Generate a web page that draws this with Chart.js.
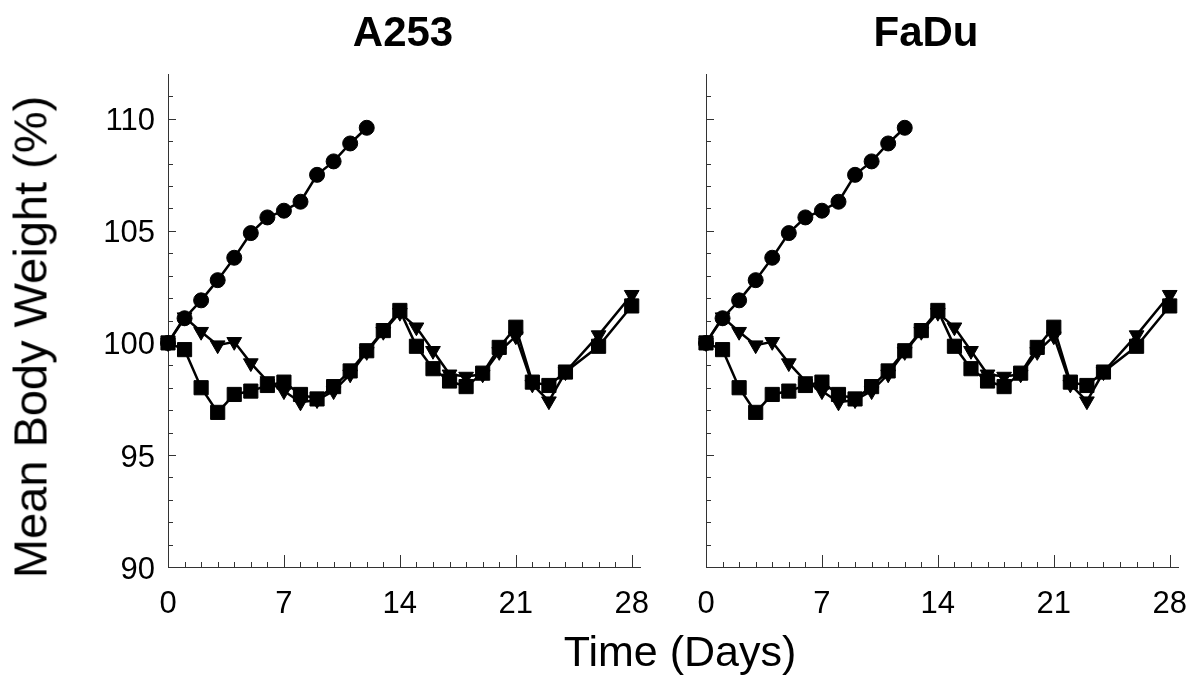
<!DOCTYPE html>
<html>
<head>
<meta charset="utf-8">
<title>Mean Body Weight</title>
<script src="https://cdn.jsdelivr.net/npm/chart.js@4.4.1/dist/chart.umd.min.js"></script>
<style>
  html, body { margin: 0; padding: 0; background: #fff; }
  #wrap { position: relative; width: 1195px; height: 681px; overflow: hidden;
          font-family: "Liberation Sans", Arial, sans-serif; color: #000; }
  #wrap canvas { position: absolute; top: 0; }
  .lbl { position: absolute; white-space: nowrap; line-height: 1; }
  .ttl { font-size: 42px; font-weight: bold; transform: translateX(-50%); }
</style>
</head>
<body>
<div id="wrap">
  <canvas id="chartA253" width="660" height="681" style="left:0"></canvas>
  <canvas id="chartFaDu" width="535" height="681" style="left:660px"></canvas>
  <div class="lbl ttl" style="left:403px; top:11px">A253</div>
  <div class="lbl ttl" style="left:926px; top:11px">FaDu</div>
  <div class="lbl" style="left:680px; top:630px; font-size:43px; transform:translateX(-50%)">Time (Days)</div>
  <div class="lbl" style="left:30px; top:337px; font-size:47px; transform:translate(-50%,-50%) rotate(-90deg)">Mean Body Weight (%)</div>
</div>
<script>
// body weight, % of day 0
const CTRL_DAYS = [0, 1, 2, 3, 4, 5, 6, 7, 8, 9, 10, 11, 12];
const CTRL_BW   = [100.0, 101.1, 101.9, 102.8, 103.8, 104.9, 105.6, 105.9, 106.3, 107.5, 108.1, 108.9, 109.6];

const TX_DAYS = [0, 1, 2, 3, 4, 5, 6, 7, 8, 9, 10, 11, 12, 13, 14, 15, 16, 17, 18, 19, 20, 21, 22, 23, 24, 26, 28];
const SQ_BW   = [100.0, 99.7, 98.0, 96.9, 97.7, 97.85, 98.1, 98.25, 97.7, 97.5, 98.05, 98.75, 99.65, 100.55, 101.45,
                 99.85, 98.85, 98.3, 98.05, 98.65, 99.8, 100.7, 98.25, 98.1, 98.7, 99.85, 101.65];
const TRI_BW  = [100.0, 101.15, 100.5, 99.9, 100.05, 99.1, 98.3, 97.85, 97.35, 97.45, 97.85, 98.6, 99.6, 100.5, 101.35,
                 100.7, 99.65, 98.6, 98.5, 98.6, 99.6, 100.3, 98.15, 97.4, 98.7, 100.35, 102.15];

const X_TICKS = [0, 7, 14, 21, 28];
const Y_TICKS = [90, 95, 100, 105, 110];

const AXIS_COLOR = "#333";
const FONT = "'Liberation Sans', Arial, sans-serif";

const pts = (xs, ys) => xs.map((d, i) => ({ x: d, y: ys[i] }));

// inward minor/major tick marks, one per day and one per percent
const tickMarks = {
  id: "tickMarks",
  beforeDatasetsDraw(chart) {
    const { ctx, scales: { x, y } } = chart;
    ctx.save();
    ctx.strokeStyle = AXIS_COLOR;
    ctx.lineWidth = 1;
    ctx.beginPath();
    for (let d = 1; d <= 28; d++) {
      const px = Math.round(x.getPixelForValue(d)) + 0.5;
      const len = d % 7 === 0 ? 12 : 5;
      ctx.moveTo(px, x.top); ctx.lineTo(px, x.top - len);
    }
    for (let v = 91; v <= 111; v++) {
      const py = Math.round(y.getPixelForValue(v)) + 0.5;
      const len = v % 5 === 0 ? 8 : 5;
      ctx.moveTo(y.right, py); ctx.lineTo(y.right + len, py);
    }
    ctx.stroke();
    ctx.restore();
  }
};

function series(data, style, radius, rot) {
  return {
    data, pointStyle: style, pointRadius: radius, pointHoverRadius: radius, pointRotation: rot || 0,
    borderColor: "#000", backgroundColor: "#000", pointBackgroundColor: "#000", pointBorderColor: "#000",
    pointBorderWidth: 1, borderWidth: 2.5, tension: 0, fill: false, clip: false
  };
}

function makePanel(id, yAxisWidth, padRight, showYLabels) {
  return new Chart(document.getElementById(id), {
    type: "line",
    data: {
      datasets: [
        series(pts(TX_DAYS, SQ_BW), "rect", 10),
        series(pts(TX_DAYS, TRI_BW), "triangle", 8.5, 180),
        series(pts(CTRL_DAYS, CTRL_BW), "circle", 7.5)
      ]
    },
    options: {
      responsive: false, animation: false, devicePixelRatio: 1,
      layout: { padding: { top: 74, right: padRight, left: 0, bottom: 0 } },
      plugins: { legend: { display: false }, tooltip: { enabled: false }, title: { display: false } },
      scales: {
        x: {
          type: "linear", min: 0, max: 28.5,
          grid: { display: false, drawTicks: false },
          border: { display: true, color: AXIS_COLOR, width: 1 },
          afterBuildTicks: s => { s.ticks = X_TICKS.map(v => ({ value: v })); },
          afterFit: s => { s.height = 114; s.paddingLeft = 0; s.paddingRight = 0; },
          ticks: { color: "#000", padding: 19, maxRotation: 0, font: { family: FONT, size: 31 } }
        },
        y: {
          min: 90, max: 112,
          grid: { display: false, drawTicks: false },
          border: { display: true, color: AXIS_COLOR, width: 1 },
          afterBuildTicks: s => { s.ticks = Y_TICKS.map(v => ({ value: v })); },
          afterFit: s => { s.width = yAxisWidth; s.paddingTop = 0; s.paddingBottom = 0; },
          ticks: { display: showYLabels, color: "#000", padding: 13, labelOffset: 3, font: { family: FONT, size: 31 } }
        }
      }
    },
    plugins: [tickMarks]
  });
}

makePanel("chartA253", 168, 20, true);
makePanel("chartFaDu", 46, 17, false);
</script>
</body>
</html>
